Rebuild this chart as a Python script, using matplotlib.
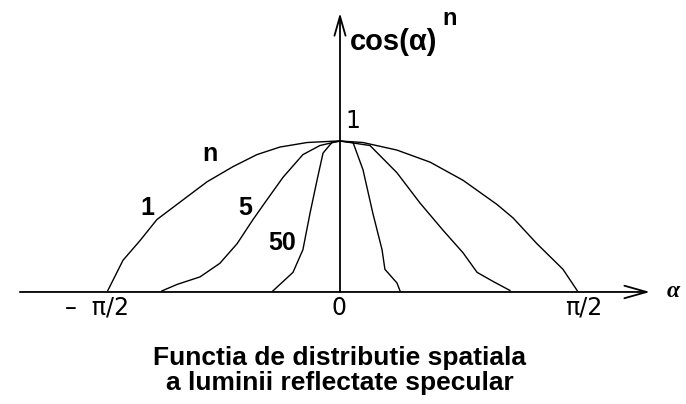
import numpy as np
import matplotlib
matplotlib.use("Agg")
import matplotlib.pyplot as plt

# Angle (degrees) and relative intensity cos(alpha)^n, traced for each exponent
n_values = [1, 5, 50]

alpha_n1 = [-88.9, -83.1, -76.6, -70.1, -58.6, -50.9, -41.0, -31.8, -23.0, -12.6, -1.1,
            0.0, 8.8, 21.8, 34.5, 47.1, 53.6, 60.1, 66.3, 75.4, 85.4, 90.8]
value_n1 = [0.01, 0.21, 0.34, 0.48, 0.63, 0.73, 0.83, 0.91, 0.96, 0.99, 1.0,
            1.0, 0.99, 0.94, 0.86, 0.74, 0.66, 0.58, 0.49, 0.32, 0.15, 0.01]

alpha_n5 = [-68.2, -62.4, -53.6, -46.0, -39.4, -33.3, -28.0, -21.8, -14.2, -7.7, -2.7,
            0.0, 11.5, 21.8, 30.6, 39.4, 47.1, 52.5, 58.6, 65.1]
value_n5 = [0.007, 0.05, 0.10, 0.19, 0.32, 0.48, 0.61, 0.76, 0.91, 0.97, 0.99,
            1.0, 0.97, 0.79, 0.59, 0.41, 0.26, 0.13, 0.07, 0.01]

alpha_n50 = [-25.7, -18.0, -14.2, -11.5, -8.8, -6.5, -3.1,
             0.0, 5.0, 8.8, 12.6, 16.1, 17.2, 21.8, 23.0]
value_n50 = [0.007, 0.13, 0.28, 0.52, 0.74, 0.92, 0.99,
             1.0, 0.99, 0.81, 0.52, 0.28, 0.15, 0.06, 0.007]

tick_positions = [-90, 0, 90]
tick_labels = ["\u2013  \u03c0/2", "0", "\u03c0/2"]

W, H = 686, 404
fig = plt.figure(figsize=(W / 100, H / 100), dpi=100)
ax = fig.add_axes([0, 0, 1, 1])
ax.set_xlim(-130.2, 132.5)
ax.set_ylim(-0.742, 1.934)
ax.axis("off")

# Coordinate axes with arrow heads
ax.annotate("", xy=(118.7, 0), xytext=(-122.6, 0),
            arrowprops=dict(arrowstyle="->,head_length=1.6,head_width=0.45",
                            color="black", lw=1.3, mutation_scale=10,
                            shrinkA=0, shrinkB=0))
ax.annotate("", xy=(0, 1.848), xytext=(0, 0),
            arrowprops=dict(arrowstyle="->,head_length=1.4,head_width=0.4",
                            color="black", lw=1.3, mutation_scale=10,
                            shrinkA=0, shrinkB=0))

# Curves
for a, v in [(alpha_n1, value_n1), (alpha_n5, value_n5), (alpha_n50, value_n50)]:
    ax.plot(a, v, color="black", lw=1.0)

bold = dict(family="Liberation Sans", weight="bold", color="black")
plain = dict(family="DejaVu Sans", color="black")

# Axis labels
ax.text(3.8, 1.603, "cos(\u03b1)", fontsize=21, ha="left", va="baseline", **bold)
ax.text(39.1, 1.768, "n", fontsize=17, ha="left", va="baseline", **bold)
ax.text(125.2, -0.033, "\u03b1", fontsize=17, ha="left", va="baseline",
        family="Liberation Serif", weight="bold", style="italic", color="black")
ax.text(1.9, 1.086, "1", fontsize=17, ha="left", va="baseline", **plain)

# Tick labels on the angle axis
tick_centres = [-92.9, -0.4, 93.3]
for pos, lab in zip(tick_centres, tick_labels):
    ax.text(pos, -0.152, lab, fontsize=17, ha="center", va="baseline", **plain)

# Exponent labels
ax.text(-49.8, 0.868, "n", fontsize=18, ha="center", va="baseline", **bold)
ax.text(-73.7, 0.51, "1", fontsize=18, ha="center", va="baseline", **bold)
ax.text(-36.2, 0.51, "5", fontsize=18, ha="center", va="baseline", **bold)
ax.text(-22.0, 0.278, "50", fontsize=18, ha="center", va="baseline", **bold)

# Caption
cap = dict(family=["Liberation Sans Narrow", "Liberation Sans"], weight="bold",
           color="black")
ax.text(0, -0.483, "Functia de distributie spatiala", fontsize=19, ha="center",
        va="baseline", **cap)
ax.text(0, -0.649, "a luminii reflectate specular", fontsize=19, ha="center",
        va="baseline", **cap)

fig.savefig("out.png", dpi=100, facecolor="white")
